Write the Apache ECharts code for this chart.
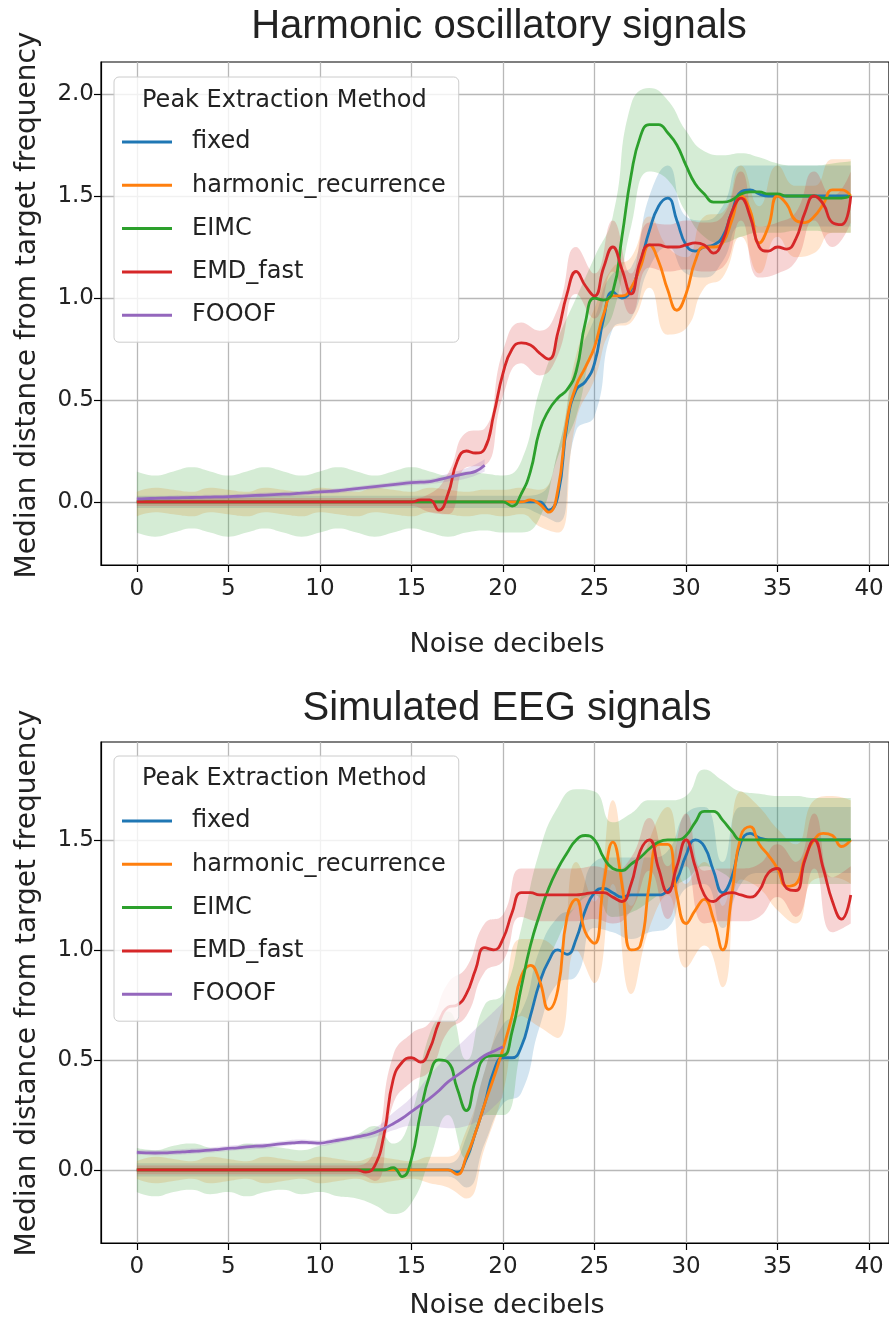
<!DOCTYPE html>
<html><head><meta charset="utf-8">
<script src="https://cdn.jsdelivr.net/npm/echarts@6/dist/echarts.min.js"></script>
<style>html,body{margin:0;padding:0;background:#fff}#c{width:889px;height:1324px}</style>
</head><body><div id="c"></div>
<script>
// ---------- data ----------
const methods = ['fixed', 'harmonic_recurrence', 'EIMC', 'EMD_fast', 'FOOOF'];
const colors = ['#1f77b4', '#ff7f0e', '#2ca02c', '#d62728', '#9467bd'];
const xTicks = [0, 5, 10, 15, 20, 25, 30, 35, 40];
const yTicksTop = [0, 0.5, 1, 1.5, 2];
const yTicksBot = [0, 0.5, 1, 1.5];

// line sample positions (noise dB, half steps)
const xs = [0,0.5,1,1.5,2,2.5,3,3.5,4,4.5, 5,5.5,6,6.5,7,7.5,8,8.5,9,9.5,
  10,10.5,11,11.5,12,12.5,13,13.5,14,14.5, 15,15.5,16,16.5,17,17.5,18,18.5,19,19.5,
  20,20.5,21,21.5,22,22.5,23,23.5,24,24.5, 25,25.5,26,26.5,27,27.5,28,28.5,29,29.5,
  30,30.5,31,31.5,32,32.5,33,33.5,34,34.5, 35,35.5,36,36.5,37,37.5,38,38.5,39];
// band sample positions (integer dB)
const xb = [0,1,2,3,4,5,6,7,8,9,10,11,12,13,14,15,16,17,18,19,20,21,22,23,24,25,26,27,28,29,30,31,32,33,34,35,36,37,38,39];

// ===== Harmonic oscillatory signals =====
const fixedTop = [0,0,0,0,0,0,0,0,0,0, 0,0,0,0,0,0,0,0,0,0, 0,0,0,0,0,0,0,0,0,0, 0,0,0,0,0,0,0,0,0,0,
  0,0,0,0,0,-0.04,0.03,0.38,0.55,0.59, 0.68,0.9,1.03,1.0,1.04,1.17,1.33,1.45,1.49,1.38,
  1.26,1.23,1.25,1.26,1.3,1.42,1.52,1.53,1.51,1.5, 1.5,1.5,1.5,1.5,1.5,1.5,1.5,1.5,1.5];
const harmTop = [0,0,0,0,0,0,0,0,0,0, 0,0,0,0,0,0,0,0,0,0, 0,0,0,0,0,0,0,0,0,0, 0,0,0,0,0,0,0,0,0,0,
  0,0,0,0.01,-0.01,-0.05,0.06,0.4,0.57,0.66, 0.76,0.92,1.01,1.01,1.05,1.15,1.26,1.18,1.04,0.94,
  1.02,1.18,1.25,1.25,1.27,1.38,1.5,1.43,1.27,1.35, 1.5,1.46,1.38,1.37,1.4,1.46,1.53,1.53,1.5];
const eimcTop = [0,0,0,0,0,0,0,0,0,0, 0,0,0,0,0,0,0,0,0,0, 0,0,0,0,0,0,0,0,0,0, 0,0,0,0,0,0,0,0,0,0,
  0,-0.02,0.04,0.15,0.35,0.45,0.51,0.55,0.64,0.88, 1.0,0.99,1.03,1.3,1.6,1.79,1.85,1.85,1.81,1.75,
  1.65,1.56,1.51,1.47,1.47,1.48,1.51,1.52,1.52,1.51, 1.51,1.5,1.5,1.5,1.5,1.49,1.49,1.49,1.5];
const emdTop = [0,0,0,0,0,0,0,0,0,0, 0,0,0,0,0,0,0,0,0,0, 0,0,0,0,0,0,0,0,0,0,
  0,0.01,0.01,-0.04,0.04,0.2,0.25,0.24,0.26,0.43,
  0.63,0.75,0.78,0.77,0.73,0.7,0.83,1.02,1.13,1.06, 1.01,1.15,1.25,1.14,1.02,1.18,1.26,1.26,1.25,1.25,
  1.26,1.27,1.26,1.22,1.28,1.42,1.49,1.4,1.25,1.23, 1.25,1.24,1.29,1.42,1.5,1.46,1.37,1.36,1.5];
const fooofTop = [0.015,0.016,0.018,0.019,0.02,0.021,0.022,0.023,0.024,0.025,
  0.026,0.028,0.03,0.032,0.034,0.036,0.038,0.04,0.043,0.046,
  0.05,0.052,0.055,0.06,0.065,0.07,0.075,0.08,0.085,0.09,
  0.095,0.097,0.1,0.11,0.12,0.13,0.14,0.15,0.18];

const fixedLoTop = [-0.03,-0.03,-0.03,-0.03,-0.03,-0.03,-0.03,-0.03,-0.03,-0.03, -0.03,-0.03,-0.03,-0.03,-0.03,-0.03,-0.03,-0.03,-0.03,-0.03,
  -0.03,-0.03,-0.06,-0.1,0.35,0.42,0.85,0.9,1.15,1.25, 1.12,1.1,1.18,1.35,1.35,1.35,1.35,1.35,1.35,1.35];
const fixedHiTop = [0.03,0.03,0.03,0.03,0.03,0.03,0.03,0.03,0.03,0.03, 0.03,0.03,0.03,0.03,0.03,0.03,0.03,0.03,0.03,0.03,
  0.03,0.03,0.04,0.25,0.68,0.9,1.12,1.15,1.5,1.65, 1.4,1.38,1.45,1.65,1.65,1.65,1.65,1.65,1.65,1.65];
const harmLoTop = [-0.07,-0.05,-0.06,-0.07,-0.05,-0.06,-0.07,-0.05,-0.06,-0.07, -0.05,-0.06,-0.07,-0.05,-0.06,-0.07,-0.05,-0.06,-0.07,-0.06,
  -0.07,-0.06,-0.12,-0.15,0.4,0.6,0.85,0.88,1.05,0.82, 0.85,1.05,1.1,1.3,1.12,1.3,1.2,1.22,1.32,1.32];
const harmHiTop = [0.05,0.07,0.06,0.05,0.07,0.06,0.05,0.07,0.06,0.05, 0.07,0.06,0.05,0.07,0.06,0.05,0.07,0.06,0.05,0.06,
  0.06,0.07,0.06,0.25,0.72,0.95,1.15,1.2,1.4,1.25, 1.2,1.4,1.42,1.65,1.45,1.65,1.55,1.55,1.68,1.68];
const eimcLoTop = [-0.15,-0.17,-0.15,-0.13,-0.15,-0.17,-0.15,-0.13,-0.15,-0.17, -0.15,-0.13,-0.15,-0.17,-0.15,-0.13,-0.15,-0.17,-0.15,-0.14,
  -0.15,-0.15,-0.08,0.22,0.42,0.78,0.92,1.35,1.62,1.58, 1.42,1.3,1.27,1.3,1.32,1.32,1.33,1.33,1.32,1.32];
const eimcHiTop = [0.15,0.13,0.15,0.17,0.15,0.13,0.15,0.17,0.15,0.13, 0.15,0.17,0.15,0.13,0.15,0.17,0.15,0.13,0.15,0.14,
  0.13,0.2,0.55,0.8,1.0,1.2,1.4,1.95,2.03,1.97, 1.82,1.72,1.7,1.71,1.69,1.66,1.65,1.65,1.66,1.67];
const emdLoTop = [-0.02,-0.02,-0.02,-0.02,-0.02,-0.02,-0.02,-0.02,-0.02,-0.02, -0.02,-0.02,-0.02,-0.02,-0.02,-0.02,-0.05,-0.06,0.17,0.18,
  0.52,0.68,0.62,0.72,1.02,0.9,1.13,0.92,1.15,1.13, 1.14,1.13,1.15,1.38,1.1,1.12,1.18,1.38,1.25,1.37];
const emdHiTop = [0.02,0.02,0.02,0.02,0.02,0.02,0.02,0.02,0.02,0.02, 0.02,0.02,0.02,0.02,0.02,0.02,0.04,0.14,0.34,0.36,
  0.74,0.88,0.84,0.95,1.25,1.12,1.38,1.12,1.37,1.36, 1.38,1.37,1.4,1.62,1.35,1.37,1.42,1.62,1.5,1.62];
const fooofLoTop = [0.005,0.007,0.009,0.011,0.013,0.015,0.018,0.022,0.026,0.031, 0.038,0.043,0.053,0.063,0.073,0.082,0.087,0.1,0.115,0.15];
const fooofHiTop = [0.025,0.028,0.031,0.033,0.035,0.037,0.042,0.046,0.05,0.055, 0.062,0.067,0.077,0.087,0.097,0.108,0.113,0.14,0.165,0.21];

// ===== Simulated EEG signals =====
const fixedBot = [0,0,0,0,0,0,0,0,0,0, 0,0,0,0,0,0,0,0,0,0, 0,0,0,0,0,0,0,0,0,0,
  0,0,0,0,0,-0.01,0.05,0.17,0.3,0.45,
  0.51,0.51,0.56,0.7,0.85,0.95,1.0,0.98,1.05,1.18, 1.26,1.28,1.26,1.24,1.25,1.25,1.25,1.25,1.27,1.32,
  1.43,1.5,1.47,1.36,1.26,1.33,1.49,1.53,1.51,1.5, 1.5,1.5,1.5,1.5,1.5,1.5,1.5,1.5,1.5];
const harmBot = [0,0,0,0,0,0,0,0,0,0, 0,0,0,0,0,0,0,0,0,0, 0,0,0,0,0,0,0,0,0,0,
  0,0,0,0,0,-0.02,0.06,0.17,0.3,0.42,
  0.55,0.7,0.88,0.93,0.86,0.73,0.82,1.15,1.23,1.08, 1.03,1.3,1.49,1.3,1.0,1.02,1.3,1.48,1.48,1.25,
  1.12,1.18,1.23,1.14,1.0,1.25,1.52,1.56,1.48,1.43, 1.37,1.29,1.3,1.42,1.5,1.53,1.52,1.47,1.5];
const eimcBot = [0,0,0,0,0,0,0,0,0,0, 0,0,0,0,0,0,0,0,0,0, 0,0,0,0,0,0,0,0,0.01,-0.03,
  0.05,0.26,0.43,0.5,0.49,0.37,0.27,0.41,0.51,0.52,
  0.52,0.63,0.83,1.02,1.16,1.28,1.37,1.44,1.5,1.52, 1.5,1.42,1.37,1.36,1.39,1.42,1.46,1.49,1.5,1.5,
  1.52,1.58,1.63,1.63,1.59,1.54,1.5,1.5,1.5,1.5, 1.5,1.5,1.5,1.5,1.5,1.5,1.5,1.5,1.5];
const emdBot = [0,0,0,0,0,0,0,0,0,0, 0,0,0,0,0,0,0,0,0,0, 0,0,0,0,0,-0.01,0.02,0.16,0.41,0.49,
  0.51,0.49,0.55,0.67,0.74,0.75,0.8,0.91,1.01,1.0,
  1.05,1.17,1.26,1.26,1.25,1.25,1.25,1.25,1.25,1.255, 1.26,1.26,1.24,1.22,1.3,1.45,1.5,1.37,1.26,1.38,
  1.5,1.38,1.25,1.22,1.25,1.26,1.25,1.24,1.27,1.35, 1.37,1.28,1.27,1.41,1.5,1.37,1.22,1.14,1.25];
const fooofBot = [0.08,0.078,0.077,0.078,0.08,0.082,0.085,0.087,0.09,0.094,
  0.098,0.1,0.105,0.108,0.11,0.115,0.12,0.123,0.126,0.124,
  0.122,0.128,0.135,0.142,0.15,0.158,0.17,0.188,0.21,0.235,
  0.265,0.295,0.325,0.36,0.4,0.43,0.46,0.49,0.52,0.54, 0.56];

const fixedLoBot = [-0.03,-0.03,-0.03,-0.03,-0.03,-0.03,-0.03,-0.03,-0.03,-0.03, -0.03,-0.03,-0.03,-0.03,-0.03,-0.03,-0.03,-0.03,-0.08,0.12,
  0.3,0.35,0.65,0.85,0.88,1.1,1.08,1.05,1.08,1.1, 1.28,1.3,1.1,1.3,1.35,1.35,1.35,1.35,1.35,1.35];
const fixedHiBot = [0.03,0.03,0.03,0.03,0.03,0.03,0.03,0.03,0.03,0.03, 0.03,0.03,0.03,0.03,0.03,0.03,0.03,0.03,0.15,0.45,
  0.66,0.72,1.0,1.15,1.2,1.4,1.42,1.42,1.42,1.45, 1.62,1.65,1.4,1.65,1.65,1.65,1.65,1.65,1.65,1.65];
const harmLoBot = [-0.04,-0.06,-0.05,-0.04,-0.06,-0.05,-0.04,-0.06,-0.05,-0.04, -0.06,-0.05,-0.04,-0.06,-0.05,-0.04,-0.06,-0.08,-0.13,0.1,
  0.35,0.7,0.65,0.6,1.0,0.85,1.3,0.8,1.1,1.25, 0.92,1.02,0.83,1.32,1.28,1.18,1.12,1.32,1.33,1.3];
const harmHiBot = [0.04,0.06,0.05,0.04,0.06,0.05,0.04,0.06,0.05,0.04, 0.06,0.05,0.04,0.06,0.05,0.04,0.06,0.06,0.18,0.45,
  0.75,1.05,1.05,1.0,1.4,1.22,1.68,1.2,1.5,1.65, 1.3,1.4,1.2,1.72,1.65,1.55,1.48,1.68,1.7,1.68];
const eimcLoBot = [-0.1,-0.12,-0.1,-0.09,-0.11,-0.1,-0.12,-0.1,-0.09,-0.11, -0.1,-0.12,-0.13,-0.16,-0.2,-0.15,0.05,0.25,0.05,0.25,
  0.25,0.55,0.85,1.05,1.2,1.25,1.15,1.17,1.22,1.28, 1.32,1.38,1.35,1.3,1.3,1.3,1.3,1.3,1.3,1.3];
const eimcHiBot = [0.1,0.09,0.11,0.12,0.1,0.09,0.12,0.11,0.1,0.09, 0.11,0.13,0.16,0.2,0.12,0.25,0.62,0.72,0.5,0.75,
  0.8,1.1,1.45,1.65,1.73,1.72,1.58,1.62,1.68,1.68, 1.7,1.82,1.77,1.72,1.71,1.7,1.7,1.69,1.69,1.69];
const emdLoBot = [-0.02,-0.02,-0.02,-0.02,-0.02,-0.02,-0.02,-0.02,-0.02,-0.02, -0.02,-0.02,-0.02,-0.05,0.3,0.4,0.45,0.63,0.7,0.9,
  0.95,1.15,1.13,1.13,1.13,1.14,1.12,1.18,1.36,1.14, 1.38,1.12,1.13,1.13,1.15,1.24,1.15,1.37,1.08,1.12];
const emdHiBot = [0.02,0.02,0.02,0.02,0.02,0.02,0.02,0.02,0.02,0.02, 0.02,0.02,0.02,0.1,0.52,0.62,0.67,0.85,0.92,1.12,
  1.16,1.37,1.37,1.37,1.37,1.38,1.36,1.42,1.6,1.38, 1.62,1.36,1.37,1.37,1.39,1.48,1.4,1.62,1.33,1.38];
const fooofLoBot = [0.068,0.066,0.068,0.073,0.078,0.086,0.093,0.098,0.108,0.114, 0.11,0.123,0.138,0.15,0.18,0.2,0.2,0.19,0.2,0.25, 0.33];
const fooofHiBot = [0.092,0.09,0.092,0.097,0.102,0.11,0.117,0.122,0.132,0.138, 0.134,0.147,0.162,0.19,0.26,0.33,0.43,0.52,0.6,0.68, 0.76];

// ---------- layout ----------
const FONT = 'DejaVu Sans';
const xMin = -1.959, xMax = 41.089;
const panels = [
  { top: 62, height: 503, yMin: -0.309, yMax: 2.157, yTicks: yTicksTop,
    lines: [fixedTop, harmTop, eimcTop, emdTop, fooofTop],
    los: [fixedLoTop, harmLoTop, eimcLoTop, emdLoTop, fooofLoTop],
    his: [fixedHiTop, harmHiTop, eimcHiTop, emdHiTop, fooofHiTop] },
  { top: 742, height: 501, yMin: -0.332, yMax: 1.945, yTicks: yTicksBot,
    lines: [fixedBot, harmBot, eimcBot, emdBot, fooofBot],
    los: [fixedLoBot, harmLoBot, eimcLoBot, emdLoBot, fooofLoBot],
    his: [fixedHiBot, harmHiBot, eimcHiBot, emdHiBot, fooofHiBot] }
];

const series = [];
panels.forEach((p, k) => {
  methods.forEach((m, i) => {
    const lo = p.los[i], hi = p.his[i];
    const stack = 'band_' + k + '_' + i;
    // value first, x second -> the stacked dimension is the y value
    series.push({ type: 'line', name: m + ' lower', xAxisIndex: k, yAxisIndex: k, stack, stackStrategy: 'all',
      encode: { x: 1, y: 0 },
      data: lo.map((v, j) => [v, xb[j]]), smooth: 0.5, symbol: 'none', silent: true,
      lineStyle: { opacity: 0, width: 0 } });
    series.push({ type: 'line', name: m + ' band', xAxisIndex: k, yAxisIndex: k, stack, stackStrategy: 'all',
      encode: { x: 1, y: 0 },
      data: hi.map((v, j) => [v - lo[j], xb[j]]), smooth: 0.5, symbol: 'none', silent: true,
      lineStyle: { opacity: 0, width: 0 }, areaStyle: { color: colors[i], opacity: 0.2 } });
    series.push({ type: 'line', name: m, xAxisIndex: k, yAxisIndex: k,
      data: p.lines[i].map((v, j) => [xs[j], v]), smooth: 0.5, symbol: 'none',
      lineStyle: { color: colors[i], width: 2.8 }, itemStyle: { color: colors[i] } });
  });
});

const txt = (text, x, y, font, extra) => Object.assign({ type: 'text', x, y, z: 100,
  style: { text, font, fill: '#222', textAlign: 'center', textVerticalAlign: 'middle', align: 'center', verticalAlign: 'middle' } }, extra || {});

const option = {
  animation: false,
  backgroundColor: '#ffffff',
  grid: panels.map(p => ({ left: 101, top: p.top, width: 791, height: p.height, show: true,
    borderColor: '#000', borderWidth: 1.2, backgroundColor: 'transparent' })),
  xAxis: panels.map((p, k) => ({ type: 'value', gridIndex: k, min: xMin, max: xMax, minInterval: 5, maxInterval: 5,
    axisLine: { show: true, onZero: false, lineStyle: { color: '#000', width: 1.2 } },
    axisTick: { show: true, length: 7, customValues: xTicks, lineStyle: { color: '#000', width: 1.2 } },
    axisLabel: { customValues: xTicks, fontFamily: FONT, fontSize: 23, color: '#222', margin: 13 },
    splitLine: { show: true, lineStyle: { color: '#b8b8b8', width: 1.3 } } })),
  yAxis: panels.map((p, k) => ({ type: 'value', gridIndex: k, min: p.yMin, max: p.yMax, minInterval: 0.5, maxInterval: 0.5,
    axisLine: { show: true, onZero: false, lineStyle: { color: '#000', width: 1.2 } },
    axisTick: { show: true, length: 7, customValues: p.yTicks, lineStyle: { color: '#000', width: 1.2 } },
    axisLabel: { customValues: p.yTicks, fontFamily: FONT, fontSize: 23, color: '#222', margin: 7,
      formatter: v => Number(v).toFixed(1) },
    splitLine: { show: true, lineStyle: { color: '#b8b8b8', width: 1.3 } } })),
  legend: [77, 756].map(t => ({
    data: methods, orient: 'vertical', left: 114, top: t, icon: 'rect', itemWidth: 50, itemHeight: 3, itemGap: 13.3,
    padding: [50, 13, 12, 8], backgroundColor: 'rgba(255,255,255,0.8)', borderColor: '#cccccc', borderWidth: 1,
    borderRadius: 5, selectedMode: false, z: 10,
    textStyle: { fontFamily: FONT, fontSize: 24, color: '#222', lineHeight: 30, padding: [0, 0, 0, 15] } })),
  graphic: [
    txt('Harmonic oscillatory signals', 499, 27, '40px "Liberation Sans"'),
    txt('Simulated EEG signals', 507, 709, '40px "Liberation Sans"'),
    txt('Median distance from target frequency', 28, 305, '28px "DejaVu Sans"', { rotation: Math.PI / 2 }),
    txt('Median distance from target frequency', 28, 983, '28px "DejaVu Sans"', { rotation: Math.PI / 2 }),
    txt('Noise decibels', 507, 645, '27px "DejaVu Sans"'),
    txt('Noise decibels', 507, 1306, '27px "DejaVu Sans"'),
    { type: 'text', x: 142, y: 101, z: 100, style: { text: 'Peak Extraction Method', font: '24px "DejaVu Sans"', fill: '#222', textAlign: 'left', textVerticalAlign: 'middle', align: 'left', verticalAlign: 'middle' } },
    { type: 'text', x: 142, y: 779, z: 100, style: { text: 'Peak Extraction Method', font: '24px "DejaVu Sans"', fill: '#222', textAlign: 'left', textVerticalAlign: 'middle', align: 'left', verticalAlign: 'middle' } }
  ],
  series
};

const chart = echarts.init(document.getElementById('c'), null, { renderer: 'canvas' });
chart.setOption(option);
</script></body></html>
